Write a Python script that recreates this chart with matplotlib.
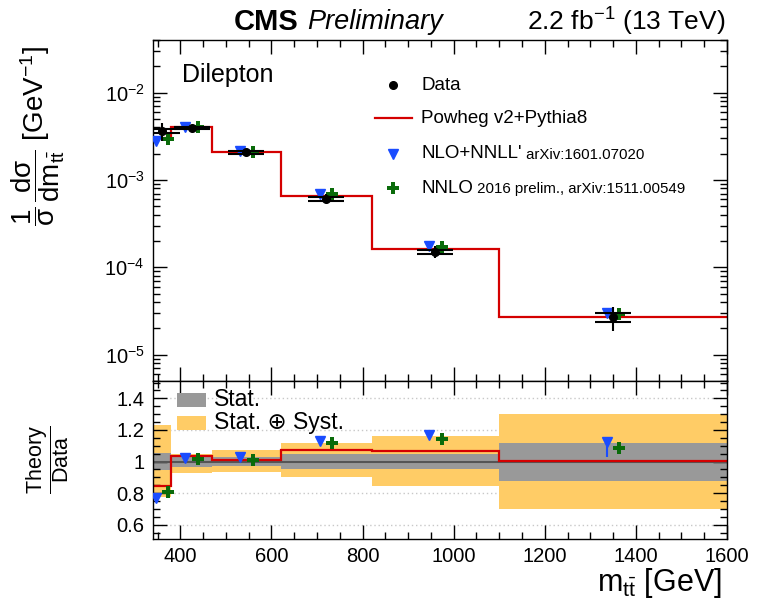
import numpy as np
import matplotlib
matplotlib.use('Agg')
import matplotlib.pyplot as plt
from matplotlib.ticker import MultipleLocator, FixedLocator, LogLocator, NullFormatter

plt.rcParams['font.family'] = ['Liberation Sans', 'DejaVu Sans']
plt.rcParams['mathtext.fontset'] = 'custom'
plt.rcParams['mathtext.rm'] = 'Liberation Sans'
plt.rcParams['mathtext.it'] = 'Liberation Sans:italic'
plt.rcParams['mathtext.bf'] = 'Liberation Sans:bold'
plt.rcParams['mathtext.sf'] = 'Liberation Sans'

# m_tt bins [GeV]
edges = np.array([340, 380, 470, 620, 820, 1100, 1600])

# normalised differential cross section, dilepton channel
data = np.array([3.62e-3, 3.93e-3, 2.07e-3, 6.12e-4, 1.50e-4, 2.69e-5])
stat_unc = np.array([0.055, 0.035, 0.030, 0.050, 0.050, 0.120])
tot_up = np.array([0.230, 0.050, 0.070, 0.117, 0.160, 0.300])
tot_dn = np.array([0.222, 0.075, 0.065, 0.100, 0.155, 0.300])

# theory / data
ratio_powheg = np.array([0.846, 1.033, 1.009, 1.072, 1.068, 1.003])
ratio_nnll = np.array([0.770, 1.022, 1.030, 1.131, 1.167, 1.121])
ratio_nnlo = np.array([0.810, 1.016, 1.009, 1.115, 1.140, 1.087])
nnll_err_dn = np.array([0.0, 0.0, 0.0, 0.0, 0.0, 0.09])
nnll_err_up = np.array([0.0, 0.0, 0.0, 0.0, 0.0, 0.03])

red = '#d40000'
blue = '#1a4cff'
green = '#0a6b0a'
orange = '#ffcc66'
grey = '#999999'

centers = 0.5 * (edges[:-1] + edges[1:])
widths = np.diff(edges)
shift = 14.0

fig = plt.figure(figsize=(7.63, 6.02), dpi=100)
ax = fig.add_axes([0.2005, 0.3671, 0.7523, 0.5664])
axr = fig.add_axes([0.2005, 0.1047, 0.7523, 0.2625], sharex=ax)

# ---- upper panel ----
ax.stairs(data * ratio_powheg, edges, baseline=None, color=red, lw=1.6, zorder=2)
ax.errorbar(centers - shift, data * ratio_nnll,
            yerr=[data * nnll_err_dn, data * nnll_err_up],
            fmt='v', color=blue, ms=7.5, elinewidth=1.5, capsize=0, zorder=3)
ax.plot(centers + shift, data * ratio_nnlo, 'P', color=green, ms=8,
        markeredgewidth=0, zorder=3)
ax.errorbar(centers, data, yerr=[data * tot_dn, data * tot_up], fmt='o',
            color='k', ms=5.5, elinewidth=1.5, capsize=0, zorder=4)
ax.errorbar(centers, data, yerr=data * stat_unc, fmt='none', ecolor='k',
            elinewidth=0, capsize=13, capthick=1.5, zorder=4)

ax.set_yscale('log')
ax.set_ylim(5e-6, 4e-2)
ax.set_xlim(edges[0], edges[-1])
ax.yaxis.set_major_locator(LogLocator(base=10, numticks=10))
ax.yaxis.set_minor_locator(LogLocator(base=10, subs=np.arange(2, 10), numticks=20))
ax.yaxis.set_minor_formatter(NullFormatter())
ax.tick_params(labelbottom=False)

# legend
ax.text(0.05, 0.897, 'Dilepton', transform=ax.transAxes, fontsize=18, va='center')
lx, tx = 0.418, 0.467
ax.plot([lx], [0.868], 'o', color='k', ms=5.5, transform=ax.transAxes, clip_on=False)
ax.plot([0.387, 0.451], [0.771, 0.771], color=red, lw=1.6, transform=ax.transAxes)
ax.plot([lx], [0.666], 'v', color=blue, ms=7.5, transform=ax.transAxes)
ax.plot([lx], [0.566], 'P', color=green, ms=8, markeredgewidth=0, transform=ax.transAxes)
ax.text(tx, 0.868, 'Data', transform=ax.transAxes, fontsize=13.5, va='center')
ax.text(tx, 0.771, 'Powheg v2+Pythia8', transform=ax.transAxes, fontsize=13.5, va='center')
t1 = ax.text(tx, 0.666, "NLO+NNLL'", transform=ax.transAxes, fontsize=13.5, va='center')
ax.annotate(' arXiv:1601.07020', xy=(1, 0.45), xycoords=t1, fontsize=10.8, va='center')
t2 = ax.text(tx, 0.566, 'NNLO', transform=ax.transAxes, fontsize=13.5, va='center')
ax.annotate(' 2016 prelim., arXiv:1511.00549', xy=(1, 0.45), xycoords=t2,
            fontsize=10.8, va='center')

# ---- ratio panel ----
axr.bar(edges[:-1], tot_up + tot_dn, bottom=1 - tot_dn, width=widths,
        align='edge', color=orange, lw=0, zorder=1)
axr.bar(edges[:-1], 2 * stat_unc, bottom=1 - stat_unc, width=widths,
        align='edge', color=grey, lw=0, zorder=1.5)
for yv in [0.6, 0.8, 1.2, 1.4]:
    axr.axhline(yv, color='#c8c8c8', ls=(0, (1, 2)), lw=1, zorder=0.5)
axr.axhline(1.0, color='#555555', lw=1.5, zorder=1.8)
axr.stairs(ratio_powheg, edges, baseline=None, color=red, lw=1.6, zorder=2)
axr.errorbar(centers - shift, ratio_nnll, yerr=[nnll_err_dn, nnll_err_up],
             fmt='v', color=blue, ms=7.5, elinewidth=1.5, capsize=0, zorder=3)
axr.plot(centers + shift, ratio_nnlo, 'P', color=green, ms=8,
         markeredgewidth=0, zorder=3)

axr.set_ylim(0.51, 1.51)
axr.yaxis.set_major_locator(FixedLocator([0.6, 0.8, 1.0, 1.2, 1.4]))
axr.set_yticklabels(['0.6', '0.8', '1', '1.2', '1.4'])
axr.yaxis.set_minor_locator(MultipleLocator(0.05))
axr.xaxis.set_major_locator(MultipleLocator(200))
axr.xaxis.set_minor_locator(MultipleLocator(50))

# band legend
axr.add_patch(plt.Rectangle((0.042, 0.835), 0.05, 0.089, color=grey, lw=0,
                            transform=axr.transAxes, zorder=5))
axr.add_patch(plt.Rectangle((0.042, 0.69), 0.05, 0.088, color=orange, lw=0,
                            transform=axr.transAxes, zorder=5))
axr.text(0.106, 0.88, 'Stat.', transform=axr.transAxes, fontsize=16.5, va='center', zorder=5)
axr.text(0.106, 0.734, 'Stat. \u2295 Syst.', transform=axr.transAxes, fontsize=16.5,
         va='center', zorder=5)

for a in (ax, axr):
    a.tick_params(which='both', direction='in', top=True, right=True, width=1,
                  labelsize=14.5, pad=6)
    a.tick_params(which='major', length=10)
    a.tick_params(which='minor', length=5)
    for s in a.spines.values():
        s.set_linewidth(1)

# axis titles
fig.text(0.05, 0.775,
         r'$\dfrac{1}{\mathrm{\sigma}}\,\dfrac{\mathrm{d\sigma}}{\mathrm{dm}_{\mathrm{t}\bar{\mathrm{t}}}}\ [\mathrm{GeV}^{-1}]$',
         rotation=90, fontsize=20, ha='center', va='center')
fig.text(0.062, 0.236, r'$\dfrac{\mathrm{Theory}}{\mathrm{Data}}$', rotation=90,
         fontsize=15.5, ha='center', va='center')
fig.text(0.946, 0.019, r'$\mathrm{m}_{\mathrm{t}\bar{\mathrm{t}}}\ [\mathrm{GeV}]$',
         fontsize=22, ha='right', va='baseline')

# header
fig.text(0.306, 0.963, 'CMS', fontsize=21, weight='bold', va='center')
fig.text(0.402, 0.963, 'Preliminary', fontsize=19.5, style='italic', va='center')
fig.text(0.951, 0.963, r'2.2 fb$^{-1}$ (13 TeV)', fontsize=19, ha='right', va='center')

fig.savefig('out.png', dpi=100)
